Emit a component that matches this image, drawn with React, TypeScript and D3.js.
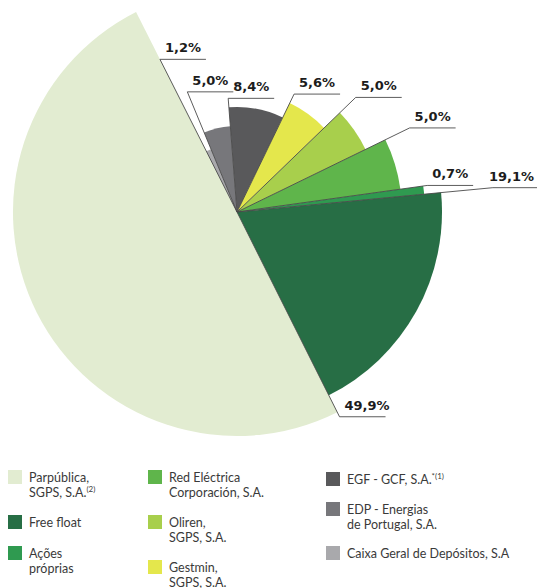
import React, { useEffect, useRef } from 'react';
import * as d3 from 'd3';

// Shareholder structure (pie order, clockwise from the Parpública / Free float edge)
const shareholders = [
  'Parpública, SGPS, S.A.',
  'Caixa Geral de Depósitos, S.A.',
  'EDP - Energias de Portugal, S.A.',
  'EGF - GCF, S.A.',
  'Gestmin, SGPS, S.A.',
  'Oliren, SGPS, S.A.',
  'Red Eléctrica Corporación, S.A.',
  'Ações próprias',
  'Free float',
];
const shares = [49.9, 1.2, 5.0, 8.4, 5.6, 5.0, 5.0, 0.7, 19.1];

const legendLines = [
  ['Parpública,', 'SGPS, S.A.'],
  ['Caixa Geral de Depósitos, S.A'],
  ['EDP - Energias', 'de Portugal, S.A.'],
  ['EGF - GCF, S.A.'],
  ['Gestmin,', 'SGPS, S.A.'],
  ['Oliren,', 'SGPS, S.A.'],
  ['Red Eléctrica', 'Corporación, S.A.'],
  ['Ações', 'próprias'],
  ['Free float'],
];
const legendNotes = ['(2)', '', '', '*(1)', '', '', '', '', ''];

// styling / layout
const COLORS = ['#e2ecd1', '#a9a9ac', '#77777b', '#59595b', '#e4e74c', '#a8cf4c', '#5fb54b', '#2f9a50', '#276e45'];
const RADII = [224, 68, 86, 105, 121, 143, 165, 188, 205];
const LEADER_LEN = [229, 171, 130, 114, 131, 165, 192, 192, 257];
const LEGEND_SLOT = [
  { col: 0, y: 470 }, { col: 2, y: 546 }, { col: 2, y: 502 }, { col: 2, y: 472 },
  { col: 1, y: 560 }, { col: 1, y: 515 }, { col: 1, y: 470 }, { col: 0, y: 546 }, { col: 0, y: 515 },
];
const LEGEND_COLS = [8, 148, 326];

const W = 537;
const H = 588;

const fmt = d3.formatLocale({ decimal: ',', thousands: '.', grouping: [3], currency: ['', '€'] }).format('.1f');

const App: React.FC = () => {
  const svgRef = useRef<SVGSVGElement>(null);

  useEffect(() => {
    if (!svgRef.current) return;
    const svg = d3.select(svgRef.current);
    svg.selectAll('*').remove();

    const cx = 237;
    const cy = 212;
    const g = svg.append('g').attr('transform', `translate(${cx},${cy})`);

    const start = (153.4 * Math.PI) / 180;
    const pie = d3.pie<number>().sort(null).value(d => d).startAngle(start).endAngle(start + 2 * Math.PI);
    const arcs = pie(shares);

    g.selectAll('path.slice')
      .data(arcs)
      .enter().append('path')
      .attr('class', 'slice')
      .attr('fill', (d, i) => COLORS[i])
      .attr('d', (d, i) => d3.arc<d3.PieArcDatum<number>>().innerRadius(0).outerRadius(RADII[i])(d) as string);

    // leader lines along each slice's leading edge + underline
    arcs.forEach((d, i) => {
      const a = d.startAngle;
      const x = Math.sin(a) * LEADER_LEN[i];
      const y = -Math.cos(a) * LEADER_LEN[i];
      g.append('path')
        .attr('d', `M0,0L${x},${y}h46`)
        .attr('fill', 'none')
        .attr('stroke', '#4a4a4a')
        .attr('stroke-width', 0.9);
      const t = g.append('text')
        .attr('x', x + 5)
        .attr('y', y - 7)
        .attr('font-family', 'DejaVu Sans')
        .attr('font-weight', 'bold')
        .attr('font-size', 13)
        .attr('fill', '#1c1c1c')
        .text(`${fmt(shares[i])}%`);
      // keep label inside the frame
      const len = (t.node() as SVGTextElement).getComputedTextLength();
      const maxX = W - cx - 3 - len;
      if (x + 5 > maxX) t.attr('x', maxX);
    });

    // legend
    const legend = svg.append('g').attr('font-family', 'Lato').attr('font-size', 12.5).attr('fill', '#3a3a3a');
    shareholders.forEach((name, i) => {
      const slot = LEGEND_SLOT[i];
      const x = LEGEND_COLS[slot.col];
      const item = legend.append('g').attr('transform', `translate(${x},${slot.y})`);
      item.append('rect').attr('width', 14).attr('height', 14).attr('fill', COLORS[i]);
      const lines = legendLines[i];
      const t = item.append('text').attr('y', 12);
      lines.forEach((line, j) => {
        t.append('tspan').attr('x', 21).attr('dy', j === 0 ? 0 : 14.5).text(line);
      });
      if (legendNotes[i]) {
        t.append('tspan').attr('font-size', 8).attr('dy', -5).text(legendNotes[i]);
      }
    });
  }, []);

  return (
    <svg
      ref={svgRef}
      width={W}
      height={H}
      style={{ position: 'absolute', left: 0, top: 0, background: '#fff' }}
    />
  );
};

export default App;
